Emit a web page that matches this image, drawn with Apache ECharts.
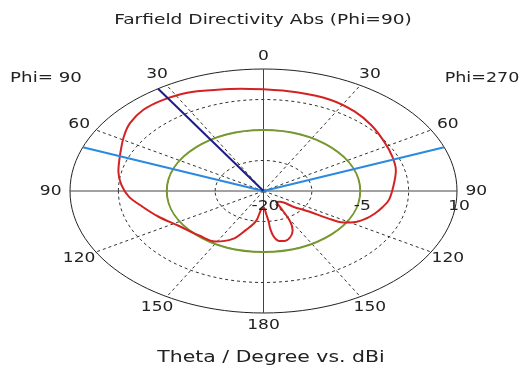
<!DOCTYPE html>
<html>
<head>
<meta charset="utf-8">
<script src="https://cdn.jsdelivr.net/npm/echarts@6/dist/echarts.min.js"></script>
<style>
html,body{margin:0;padding:0;background:#fff;}
#chart{width:523px;height:372px;}
</style>
</head>
<body>
<div id="chart"></div>
<script>
// ---- data ----
const titleText = 'Farfield Directivity Abs (Phi=90)';
const footerText = 'Theta / Degree vs. dBi';
const leftPhiLabel = 'Phi= 90';
const rightPhiLabel = 'Phi=270';

const radialMin = -20;          // dBi at centre
const radialMax = 10;           // dBi at outer ring
const ringValues = [-12.5, -5, 2.5];
const radialLabelValues = [-20, -5, 10];
const radialLabels = ['-20', '-5', '10'];

// angles measured clockwise from top (right half = Phi=270, left half = Phi=90)
const tickAngles = [0, 30, 60, 90, 120, 150, 180, 210, 240, 270, 300, 330];
const tickLabels = ['0', '30', '60', '90', '120', '150', '180', '150', '120', '90', '60', '30'];
const spokeAngles = [30, 60, 120, 150, 210, 240, 300, 330];
const axisAngles = [0, 90, 180, 270];

// directivity pattern (angle clockwise from top, dBi)
const patternAngle = [0, 12, 25, 36, 46, 57, 67, 76, 85, 96, 102, 108, 113, 118, 122, 124, 125.5, 130, 136, 144,
  148, 151, 155, 160, 165, 169, 172, 173.5, 174, 176, 180,
  184, 189, 196, 202, 211, 222, 237, 249, 260, 266, 274, 282, 293, 302, 309, 317, 325, 334, 344, 352, 360];
const patternDbi = [5.0, 4.8, 4.7, 4.1, 3.25, 2.3, 1.7, 1.15, 0.3, -0.4, -1.1, -1.9, -2.7, -3.8, -5.4, -8.2, -11.2, -14.0, -16.3, -16.7,
  -14.5, -11.5, -9.3, -7.9, -7.3, -7.5, -8.7, -10.5, -12.5, -14.5, -16.0,
  -15.7, -12.5, -10.0, -7.3, -5.5, -5.2, -4.3, -2.5, -0.5, 0.9, 2.1, 3.0, 4.1, 5.5, 6.6, 7.3, 7.3, 6.9, 5.9, 5.4, 5.0];

const sideLobeLevel = -5;        // green circle
const mainLobeAngle = 327;       // dark blue (theta 33 on Phi=90 side)
const beamEdgeAngles = [291, 69];// light blue lines

// ---- helpers ----
function toXY(angleDeg, dbi) {
  const r = (dbi - radialMin) / (radialMax - radialMin);
  const a = angleDeg * Math.PI / 180;
  return [r * Math.sin(a), r * Math.cos(a)];
}
const FONT = '"DejaVu Sans", Verdana, sans-serif';

function ringSeries(values, style, z) {
  return {
    type: 'custom', coordinateSystem: 'cartesian2d', z: z, silent: true,
    data: values.map(v => [v, 0]),
    renderItem(params, api) {
      const v = api.value(0);
      const r = (v - radialMin) / (radialMax - radialMin);
      const c = api.coord([0, 0]);
      const e = api.coord([r, r]);
      return { type: 'ellipse', shape: { cx: c[0], cy: c[1], rx: e[0] - c[0], ry: c[1] - e[1] },
        style: Object.assign({ fill: 'none' }, style) };
    }
  };
}
function spokeSeries(angles, style, z) {
  return {
    type: 'custom', coordinateSystem: 'cartesian2d', z: z, silent: true,
    data: angles.map(a => [a, 0]),
    renderItem(params, api) {
      const a = api.value(0);
      const c = api.coord([0, 0]);
      const p = api.coord(toXY(a, radialMax));
      return { type: 'line', shape: { x1: c[0], y1: c[1], x2: p[0], y2: p[1] }, style: style };
    }
  };
}

const chart = echarts.init(document.getElementById('chart'), null, { renderer: 'canvas' });
const option = {
  animation: false,
  backgroundColor: '#fff',
  grid: { left: 70, top: 69, width: 387, height: 244 },
  xAxis: { type: 'value', min: -1, max: 1, show: false },
  yAxis: { type: 'value', min: -1, max: 1, show: false },
  graphic: [
    { type: 'text', x: 263, y: 20, scaleX: 1.33, style: { text: titleText, font: '14px ' + FONT, fill: '#222', align: 'center', verticalAlign: 'middle' } },
    { type: 'text', x: 271, y: 358, scaleX: 1.36, style: { text: footerText, font: '15px ' + FONT, fill: '#222', align: 'center', verticalAlign: 'middle' } },
    { type: 'text', x: 46, y: 78, scaleX: 1.3, style: { text: leftPhiLabel, font: '14px ' + FONT, fill: '#222', align: 'center', verticalAlign: 'middle' } },
    { type: 'text', x: 482, y: 78, scaleX: 1.25, style: { text: rightPhiLabel, font: '14px ' + FONT, fill: '#222', align: 'center', verticalAlign: 'middle' } }
  ],
  series: [
    ringSeries(ringValues, { stroke: '#333', lineWidth: 1, lineDash: [3, 3] }, 1),
    spokeSeries(spokeAngles, { stroke: '#333', lineWidth: 1, lineDash: [3, 3] }, 1),
    ringSeries([radialMax], { stroke: '#222', lineWidth: 1 }, 2),
    spokeSeries(axisAngles, { stroke: '#444', lineWidth: 1 }, 2),
    ringSeries([sideLobeLevel], { stroke: '#76982e', lineWidth: 2 }, 3),
    {
      type: 'line', z: 4, silent: true, symbol: 'none', smooth: 0.35, clip: false,
      data: patternAngle.map((a, i) => toXY(a, patternDbi[i])),
      lineStyle: { color: '#d42222', width: 2 }
    },
    {
      type: 'line', z: 5, silent: true, symbol: 'none', clip: false,
      data: [toXY(beamEdgeAngles[0], radialMax), toXY(0, radialMin), toXY(beamEdgeAngles[1], radialMax)],
      lineStyle: { color: '#2a8ae0', width: 2 }
    },
    {
      type: 'line', z: 6, silent: true, symbol: 'none', clip: false,
      data: [toXY(0, radialMin), toXY(mainLobeAngle, radialMax)],
      lineStyle: { color: '#1c1c8a', width: 2 }
    },
    {
      type: 'custom', coordinateSystem: 'cartesian2d', z: 7, silent: true,
      data: tickAngles.map(a => toXY(a, radialMin + 1.1 * (radialMax - radialMin))),
      renderItem(params, api) {
        const p = api.coord([api.value(0), api.value(1)]);
        return { type: 'text', x: p[0], y: p[1], scaleX: 1.22,
          style: { text: tickLabels[params.dataIndex], font: '14px ' + FONT, fill: '#222', align: 'center', verticalAlign: 'middle' } };
      }
    },
    {
      type: 'custom', coordinateSystem: 'cartesian2d', z: 7, silent: true,
      data: radialLabelValues.map(v => toXY(90, v)),
      renderItem(params, api) {
        const p = api.coord([api.value(0), api.value(1)]);
        return { type: 'text', x: p[0] + 2, y: p[1] + 15, scaleX: 1.22,
          style: { text: radialLabels[params.dataIndex], font: '14px ' + FONT, fill: '#222', align: 'center', verticalAlign: 'middle' } };
      }
    }
  ]
};
chart.setOption(option);
</script>
</body>
</html>
